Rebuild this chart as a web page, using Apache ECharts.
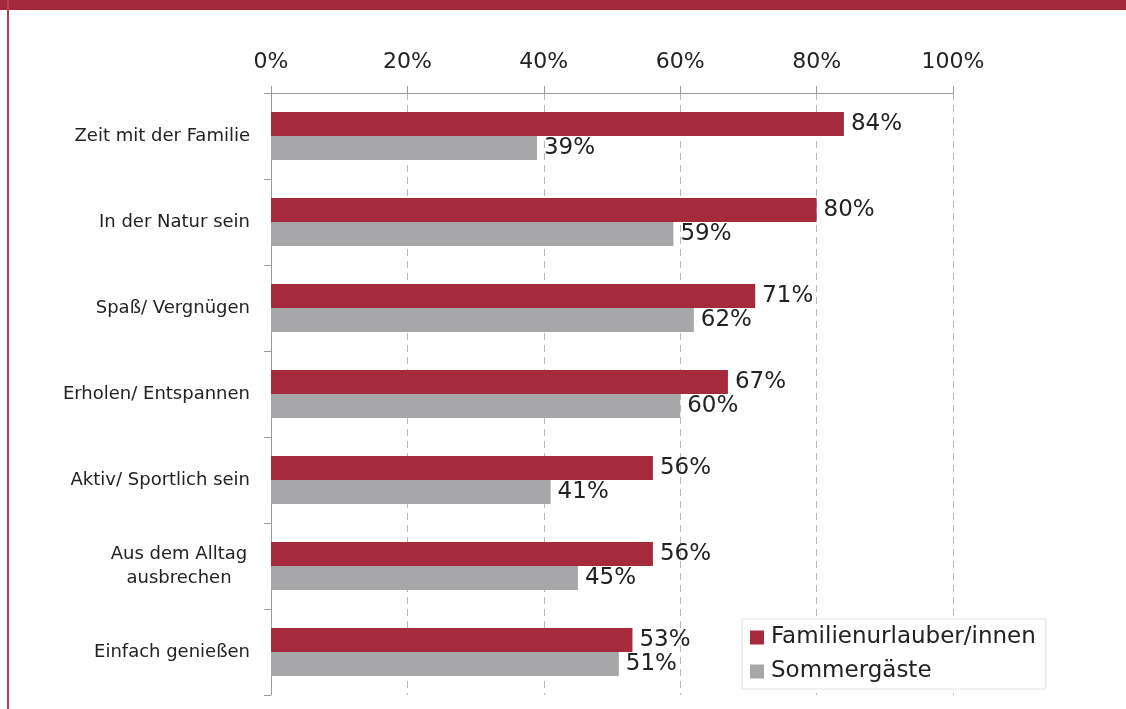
<!DOCTYPE html>
<html>
<head>
<meta charset="utf-8">
<script src="https://cdn.jsdelivr.net/npm/echarts@6/dist/echarts.min.js"></script>
<style>
html,body{margin:0;padding:0;background:#fff;}
#chart{width:1126px;height:709px;}
</style>
</head>
<body>
<div id="chart"></div>
<script>
var categories = ["Zeit mit der Familie", "In der Natur sein", "Spaß/ Vergnügen", "Erholen/ Entspannen", "Aktiv/ Sportlich sein", "Aus dem Alltag\nausbrechen", "Einfach genießen"];
var familienValues = [84, 80, 71, 67, 56, 56, 53];
var sommerValues = [39, 59, 62, 60, 41, 45, 51];
var tickValues = [0, 20, 40, 60, 80, 100];
var seriesNames = ["Familienurlauber/innen", "Sommergäste"];

var RED = '#a52a3c';
var GRAY = '#a7a7aa';
var FONT = '"DejaVu Sans", Verdana, sans-serif';

var chart = echarts.init(document.getElementById('chart'));
chart.setOption({
  animation: false,
  backgroundColor: '#fff',
  textStyle: { fontFamily: FONT },
  graphic: [
    { type: 'rect', left: 0, top: 0, shape: { width: 1126, height: 10 }, style: { fill: '#a4293a' }, z: 10 },
    { type: 'rect', left: 7, top: 0, shape: { width: 2, height: 709 }, style: { fill: '#b8404f' }, z: 10 }
  ],
  grid: { left: 271, right: 173, top: 93, bottom: 14, containLabel: false },
  legend: {
    data: seriesNames,
    orient: 'vertical',
    left: 742,
    top: 619,
    backgroundColor: '#fff',
    borderColor: '#e2e2e2',
    borderWidth: 1,
    padding: [7, 10, 6, 8],
    itemGap: 11,
    itemWidth: 14,
    itemHeight: 14,
    icon: 'rect',
    textStyle: { fontSize: 23, color: '#222', fontFamily: FONT, padding: [0, 0, 0, 2] }
  },
  xAxis: {
    type: 'value',
    position: 'top',
    min: 0,
    max: 100,
    interval: 20,
    axisLine: { show: true, lineStyle: { color: '#9a9a9a', width: 1 } },
    axisTick: { show: true, length: 7, lineStyle: { color: '#9a9a9a' } },
    axisLabel: {
      margin: 20,
      fontSize: 22,
      color: '#222',
      fontFamily: FONT,
      formatter: function (v) { return tickValues.indexOf(v) >= 0 ? v + '%' : ''; }
    },
    splitLine: { show: true, lineStyle: { color: '#b8b8b8', type: [7, 5], width: 1 } }
  },
  yAxis: {
    type: 'category',
    data: categories,
    inverse: true,
    axisLine: { show: true, lineStyle: { color: '#9a9a9a', width: 1 } },
    axisTick: { show: true, length: 7, lineStyle: { color: '#9a9a9a' } },
    axisLabel: {
      margin: 21,
      fontSize: 18,
      color: '#222',
      fontFamily: FONT,
      formatter: function (v) {
        if (v.indexOf('\n') >= 0) {
          return v.split('\n').map(function (s) { return '{c|' + s + '}'; }).join('\n');
        }
        return v;
      },
      rich: {
        c: { width: 142, align: 'center', fontSize: 18, color: '#222', fontFamily: FONT, lineHeight: 24 }
      }
    },
    splitLine: { show: false }
  },
  series: [
    {
      name: seriesNames[0],
      type: 'bar',
      data: familienValues,
      barGap: '0%',
      barCategoryGap: '44%',
      itemStyle: { color: RED },
      label: { show: true, position: 'right', distance: 7, fontSize: 23, color: '#222', fontFamily: FONT, formatter: '{c}%' }
    },
    {
      name: seriesNames[1],
      type: 'bar',
      data: sommerValues,
      barGap: '0%',
      barCategoryGap: '44%',
      itemStyle: { color: GRAY },
      label: { show: true, position: 'right', distance: 7, fontSize: 23, color: '#222', fontFamily: FONT, formatter: '{c}%' }
    }
  ]
});
</script>
</body>
</html>
